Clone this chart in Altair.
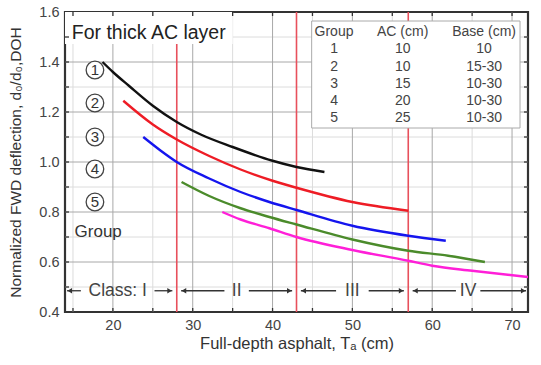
import altair as alt
import pandas as pd

# ---- data ----
g1_x = [18.7, 20, 22, 25, 28, 31, 35, 40, 43, 46.5]
g1_y = [1.40, 1.36, 1.305, 1.225, 1.16, 1.11, 1.06, 1.005, 0.98, 0.96]
g2_x = [21.3, 25, 28, 32, 36, 40, 43, 50, 57]
g2_y = [1.245, 1.15, 1.09, 1.025, 0.97, 0.925, 0.897, 0.84, 0.805]
g3_x = [23.8, 26, 28, 32, 36, 39.6, 43, 50, 57, 61.7]
g3_y = [1.10, 1.045, 1.0, 0.935, 0.88, 0.84, 0.808, 0.745, 0.705, 0.685]
g4_x = [28.6, 32, 36, 39.6, 43, 50, 57, 62, 66.6]
g4_y = [0.92, 0.865, 0.815, 0.78, 0.75, 0.69, 0.645, 0.625, 0.60]
g5_x = [33.7, 36, 39.6, 43, 50, 57, 60, 65, 72]
g5_y = [0.80, 0.77, 0.735, 0.70, 0.648, 0.605, 0.585, 0.565, 0.54]

groups = ["1", "2", "3", "4", "5"]
group_colors = ["#111111", "#ee1c25", "#1515ee", "#4b8b2b", "#ff1fd8"]
group_label_y = [1.368, 1.236, 1.10, 0.972, 0.84]

class_bounds = [14, 28, 43, 57, 72]
class_labels = ["Class: I", "II", "III", "IV"]

table_header = ["Group", "AC (cm)", "Base (cm)"]
table_group = ["1", "2", "3", "4", "5"]
table_ac = ["10", "10", "15", "20", "25"]
table_base = ["10", "15-30", "10-30", "10-30", "10-30"]

x_ticks = [20, 30, 40, 50, 60, 70]
y_ticks = [0.4, 0.6, 0.8, 1.0, 1.2, 1.4, 1.6]

XD = [14, 72]
YD = [0.4, 1.6]
FONT = "Liberation Sans"
W, H = 463, 300

xs = alt.Scale(domain=XD, nice=False, zero=False)
ys = alt.Scale(domain=YD, nice=False, zero=False)
X = lambda f="x": alt.X(f"{f}:Q", scale=xs)
Y = lambda f="y": alt.Y(f"{f}:Q", scale=ys)

# ---- grid ----
minor_x = [v for v in range(15, 72, 5) if v % 10 != 0]
minor_y = [round(0.4 + 0.1 * i, 1) for i in range(13)]
minor_y = [v for v in minor_y if round(v * 10) % 2 == 1]
grid_minor_x = alt.Chart(pd.DataFrame({"x": minor_x})).mark_rule(
    color="#dcdcdc", strokeWidth=1).encode(x=X())
grid_minor_y = alt.Chart(pd.DataFrame({"y": minor_y})).mark_rule(
    color="#dcdcdc", strokeWidth=1).encode(y=Y())
grid_major_x = alt.Chart(pd.DataFrame({"x": x_ticks})).mark_rule(
    color="#a8a8a8", strokeWidth=1).encode(x=X())
grid_major_y = alt.Chart(pd.DataFrame({"y": y_ticks[1:-1]})).mark_rule(
    color="#a8a8a8", strokeWidth=1).encode(y=Y())

# ---- red class boundaries ----
red_df = pd.DataFrame({"x": class_bounds[1:-1], "y": [0.4] * 3, "ytop": [1.472, 1.6, 1.6]})
red_lines = alt.Chart(red_df).mark_rule(color="#e8505c", strokeWidth=1.6).encode(
    x=X(), y=Y(), y2="ytop:Q")

# ---- title box ----
title_box = alt.Chart(pd.DataFrame({"x": [14], "x2": [35.0], "y": [1.472], "y2": [1.6]})).mark_rect(
    fill="white").encode(x=X(), x2="x2:Q", y=Y(), y2="y2:Q")
title_text = alt.Chart(pd.DataFrame({"x": [14.85], "y": [1.515], "t": ["For thick AC layer"]})).mark_text(
    align="left", baseline="middle", fontSize=19.5, font=FONT, color="#222").encode(
    x=X(), y=Y(), text="t:N")

# ---- curves ----
rows = []
for g, xv, yv in zip(groups, [g1_x, g2_x, g3_x, g4_x, g5_x], [g1_y, g2_y, g3_y, g4_y, g5_y]):
    for a, b in zip(xv, yv):
        rows.append({"g": g, "x": a, "y": b})
curves = alt.Chart(pd.DataFrame(rows)).mark_line(strokeWidth=2.4, interpolate="monotone").encode(
    x=X(), y=Y(),
    color=alt.Color("g:N", scale=alt.Scale(domain=groups, range=group_colors), legend=None),
    detail="g:N")

# ---- circled group labels ----
lab_df = pd.DataFrame({"g": groups, "x": [17.75] * 5, "y": group_label_y})
circles = alt.Chart(lab_df).mark_point(shape="circle", size=310, filled=False, fill="white",
                                       stroke="#444", strokeWidth=1.3, opacity=1).encode(
    x=X(), y=Y())
circ_text = alt.Chart(lab_df).mark_text(fontSize=15, font=FONT, color="#333", baseline="middle").encode(
    x=X(), y=Y(), text="g:N")
group_word = alt.Chart(pd.DataFrame({"x": [15.2], "y": [0.72], "t": ["Group"]})).mark_text(
    align="left", baseline="middle", fontSize=17, font=FONT, color="#333").encode(
    x=X(), y=Y(), text="t:N")

# ---- table ----
table_box = alt.Chart(pd.DataFrame({"x": [44.9], "x2": [71.0], "y": [1.136], "y2": [1.564]})).mark_rect(
    fill="white", stroke="#aaaaaa", strokeWidth=1).encode(
    x=X(), x2="x2:Q", y=Y(), y2="y2:Q")
col_x = [47.7, 56.3, 66.5]
t_rows = []
for j, h in enumerate(table_header):
    t_rows.append({"x": col_x[j], "y": 1.521, "t": h})
for i in range(len(table_group)):
    yy = 1.451 - 0.0692 * i
    for j, v in enumerate([table_group[i], table_ac[i], table_base[i]]):
        t_rows.append({"x": col_x[j], "y": yy, "t": v})
table_text = alt.Chart(pd.DataFrame(t_rows)).mark_text(
    fontSize=14, font=FONT, color="#444", baseline="middle").encode(
    x=X(), y=Y(), text="t:N")

# ---- class annotation ----
CY = 0.485
seg_rows, arr_rows, cl_rows = [], [], []
for i, lab in enumerate(class_labels):
    a, b = class_bounds[i], class_bounds[i + 1]
    a_in = a + (0.25 if i == 0 else 0.55)
    b_in = b - (0.25 if i == len(class_labels) - 1 else 0.55)
    c = (a + b) / 2 - (0.4 if i == 0 else 0)
    half = (len(lab) * 8.2 + 8) / 2 / 7.98
    seg_rows.append({"x": a_in, "x2": c - half, "y": CY})
    seg_rows.append({"x": c + half, "x2": b_in, "y": CY})
    arr_rows.append({"x": a_in + 0.35, "y": CY, "s": "triangle-left"})
    arr_rows.append({"x": b_in - 0.35, "y": CY, "s": "triangle-right"})
    cl_rows.append({"x": c, "y": CY, "t": lab})
segs = alt.Chart(pd.DataFrame(seg_rows)).mark_rule(color="#333", strokeWidth=1.3).encode(
    x=X(), x2="x2:Q", y=Y())
arrows = alt.Chart(pd.DataFrame(arr_rows)).mark_point(filled=True, size=28, color="#333", opacity=1).encode(
    x=X(), y=Y(), shape=alt.Shape("s:N", scale=None))
class_text = alt.Chart(pd.DataFrame(cl_rows)).mark_text(
    fontSize=17.5, font=FONT, color="#444", baseline="middle").encode(
    x=X(), y=Y(), text="t:N")

# ---- inward ticks ----
tx = list(range(15, 72, 5))
ty = [round(0.4 + 0.1 * i, 1) for i in range(1, 12)]
tick_b = alt.Chart(pd.DataFrame({"x": tx})).mark_rule(color="#333", strokeWidth=1.3).encode(
    x=X(), y=alt.value(H), y2=alt.value(H - 4))
tick_t = alt.Chart(pd.DataFrame({"x": tx})).mark_rule(color="#333", strokeWidth=1.3).encode(
    x=X(), y=alt.value(0), y2=alt.value(4))
tick_l = alt.Chart(pd.DataFrame({"y": ty})).mark_rule(color="#333", strokeWidth=1.3).encode(
    y=Y(), x=alt.value(0), x2=alt.value(4))
tick_r = alt.Chart(pd.DataFrame({"y": ty})).mark_rule(color="#333", strokeWidth=1.3).encode(
    y=Y(), x=alt.value(W), x2=alt.value(W - 4))

# ---- axes carrier ----
ax_style = dict(grid=False, ticks=False, domain=False, labelFont=FONT, titleFont=FONT,
                labelFontSize=14.5, labelColor="#444", titleColor="#333",
                titleFontWeight="normal")
axes = alt.Chart(pd.DataFrame({"x": [14], "y": [0.4]})).mark_point(opacity=0).encode(
    x=alt.X("x:Q", scale=xs, title="Full-depth asphalt, Tₐ (cm)",
            axis=alt.Axis(values=x_ticks, labelPadding=6, titlePadding=4, titleFontSize=16.5,
                          **ax_style)),
    y=alt.Y("y:Q", scale=ys, title="Normalized FWD deflection, d₀/d₀,DOH",
            axis=alt.Axis(values=y_ticks, format=".1f", labelPadding=6, titlePadding=15,
                          titleFontSize=15.5, **ax_style)))

chart = alt.layer(
    axes, grid_minor_x, grid_minor_y, grid_major_x, grid_major_y,
    red_lines, title_box, title_text, table_box, table_text,
    curves, circles, circ_text, group_word,
    segs, arrows, class_text,
    tick_b, tick_t, tick_l, tick_r,
).properties(
    width=W, height=H,
    background="white",
    autosize=alt.AutoSizeParams(type="none"),
    padding={"left": 65, "top": 12, "right": 13, "bottom": 53},
).configure_view(
    stroke="#333", strokeWidth=2.2
)

chart.save("out.html", embed_options={"renderer": "svg", "actions": False})
